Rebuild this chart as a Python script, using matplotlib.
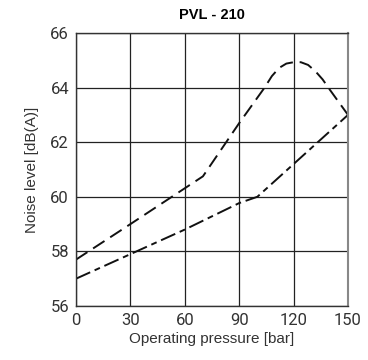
import matplotlib
matplotlib.use("Agg")
import matplotlib.pyplot as plt

title = "PVL - 210"
x_upper = [0, 30, 70, 90, 104, 108, 112, 116, 120, 124, 128, 132, 136, 140, 150]
y_upper = [57.7, 59.0, 60.75, 62.7, 64.0, 64.42, 64.72, 64.88, 64.93, 64.93, 64.83, 64.6, 64.3, 63.92, 63.0]
x_lower = [0, 30, 60, 90, 100, 120, 150]
y_lower = [57.0, 57.9, 58.8, 59.77, 60.0, 61.2, 63.0]
x_ticks = [0, 30, 60, 90, 120, 150]
y_ticks = [56, 58, 60, 62, 64, 66]

fig = plt.figure(figsize=(3.68, 3.6), dpi=100)
ax = fig.add_axes([76/368, 1-306/360, (348-76)/368, (306-33)/360])

ax.plot(x_upper, y_upper, color="#111111", lw=1.4, dashes=(7, 3.5))
ax.plot(x_lower, y_lower, color="#111111", lw=1.4, dashes=(8, 2.5, 3, 2.5))

ax.set_xlim(0, 150)
ax.set_ylim(56, 66)
ax.set_xticks(x_ticks)
ax.set_yticks(y_ticks)
ax.grid(True, color="#222222", lw=0.9)
ax.tick_params(length=0, labelsize=12, colors="#333333", pad=5)
for lab in ax.get_xticklabels() + ax.get_yticklabels():
    lab.set_fontfamily("Roboto")
for s in ax.spines.values():
    s.set_color("#333333")
    s.set_linewidth(1.0)
ax.spines["right"].set_color("#888888")
ax.spines["right"].set_linewidth(1.5)

ax.set_xlabel("Operating pressure [bar]", fontsize=11, color="#333333", family="Liberation Sans", labelpad=3)
ax.set_ylabel("Noise level [dB(A)]", fontsize=11, color="#333333", family="Liberation Sans", labelpad=8)
ax.set_title(title, fontsize=10.5, fontweight="bold", family="Liberation Sans", pad=10)

fig.savefig("out.png", dpi=100)
